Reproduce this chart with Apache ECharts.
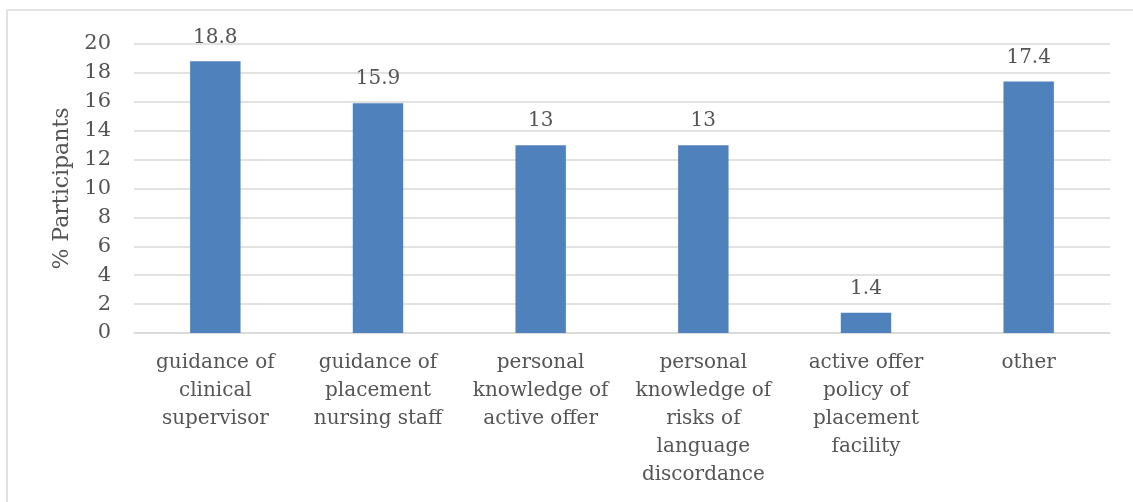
<!DOCTYPE html>
<html>
<head>
<meta charset="utf-8">
<script src="https://cdn.jsdelivr.net/npm/echarts@6/dist/echarts.min.js"></script>
<style>
  html, body { margin: 0; padding: 0; background: #fff; }
  #chart { width: 1133px; height: 502px; }
</style>
</head>
<body>
<div id="chart"></div>
<script>
const categories = [
  'guidance of\nclinical\nsupervisor',
  'guidance of\nplacement\nnursing staff',
  'personal\nknowledge of\nactive offer',
  'personal\nknowledge of\nrisks of\nlanguage\ndiscordance',
  'active offer\npolicy of\nplacement\nfacility',
  'other'
];
const values = [18.8, 15.9, 13, 13, 1.4, 17.4];
const yTicks = { min: 0, max: 20, interval: 2 };
const axisTitle = '% Participants';

const FONT = 'DejaVu Serif';
const TEXT = '#555555';

const chart = echarts.init(document.getElementById('chart'), null, { renderer: 'canvas' });
chart.setOption({
  animation: false,
  backgroundColor: '#ffffff',
  textStyle: { fontFamily: FONT, color: TEXT },
  graphic: [
    { type: 'line', shape: { x1: 7, y1: 10, x2: 1133, y2: 10 }, style: { stroke: '#d9d9d9', lineWidth: 1.5 } },
    { type: 'line', shape: { x1: 7, y1: 10, x2: 7, y2: 502 }, style: { stroke: '#d9d9d9', lineWidth: 1.5 } }
  ],
  grid: { left: 134, right: 23, top: 44, bottom: 169, containLabel: false },
  xAxis: {
    type: 'category',
    data: categories,
    axisLine: { lineStyle: { color: '#d9d9d9', width: 1.5 } },
    axisTick: { show: false },
    axisLabel: {
      interval: 0, margin: 16, fontFamily: FONT, fontSize: 20, color: TEXT, lineHeight: 28
    }
  },
  yAxis: {
    type: 'value',
    min: yTicks.min, max: yTicks.max, interval: yTicks.interval,
    name: axisTitle,
    nameLocation: 'middle',
    nameGap: 60,
    nameTextStyle: { fontFamily: FONT, fontSize: 22, color: TEXT },
    axisLine: { show: false },
    axisTick: { show: false },
    axisLabel: { margin: 23, fontFamily: FONT, fontSize: 21, color: TEXT },
    splitLine: { lineStyle: { color: '#d9d9d9', width: 1.5 } }
  },
  series: [{
    type: 'bar',
    data: values,
    barWidth: '31%',
    itemStyle: { color: '#4f81bd' },
    label: {
      show: true, position: 'top', distance: 14,
      fontFamily: FONT, fontSize: 20, color: TEXT
    }
  }]
});
</script>
</body>
</html>
